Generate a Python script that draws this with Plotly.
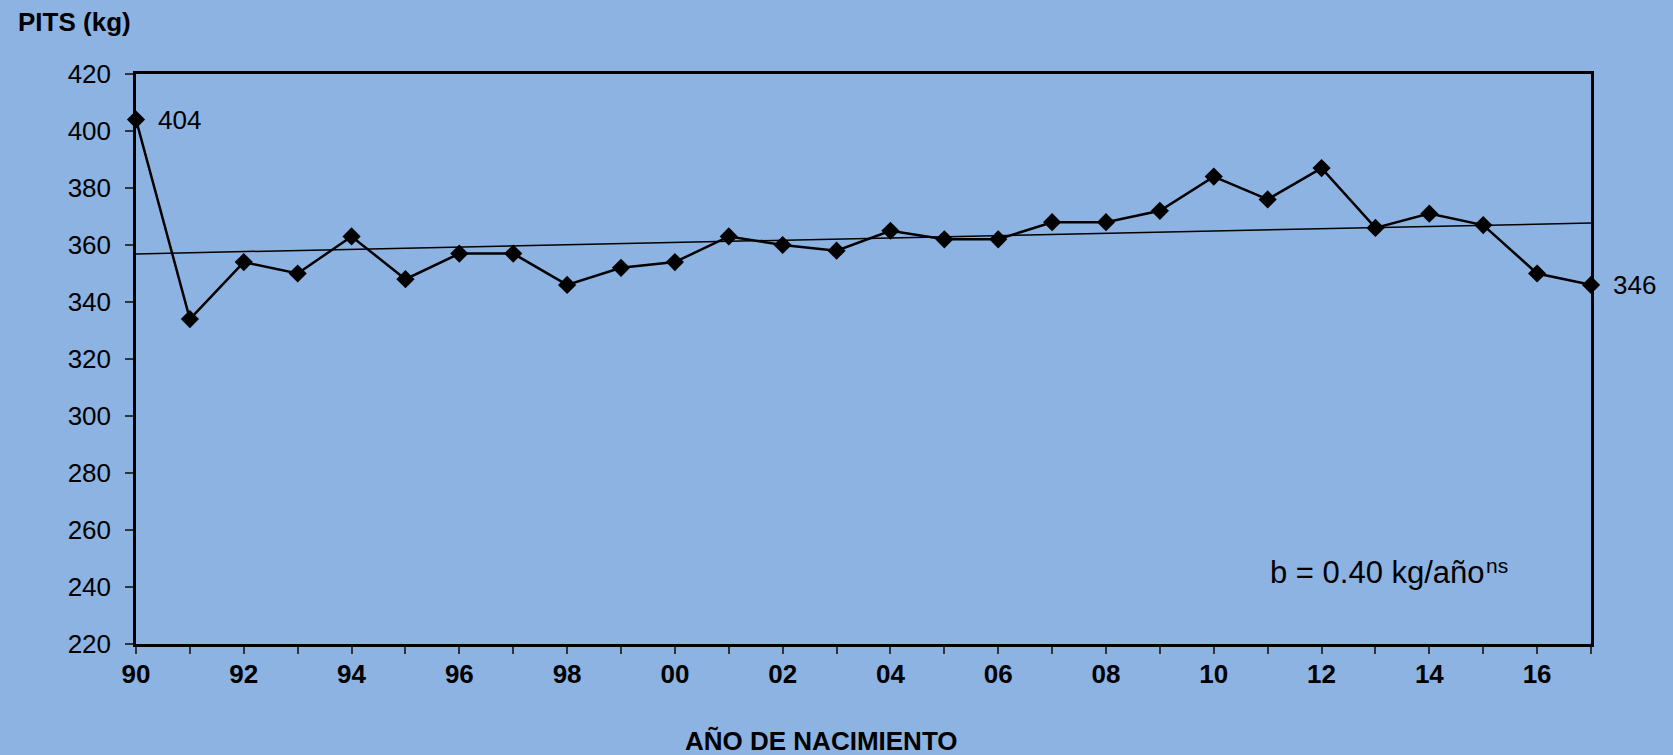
import numpy as np
import plotly.graph_objects as go

years = list(range(1990, 2018))
pits = [404, 334, 354, 350, 363, 348, 357, 357, 346, 352, 354, 363, 360, 358,
        365, 362, 362, 368, 368, 372, 384, 376, 387, 366, 371, 367, 350, 346]
tick_years = years
tick_labels = [f"{y % 100:02d}" if (y - 1990) % 2 == 0 else "" for y in years]
slope_text = "b = 0.40 kg/año"
slope_sup = "ns"
y_title = "PITS (kg)"
x_title = "AÑO DE NACIMIENTO"

coef = np.polyfit(years, pits, 1)
trend_x = [years[0], years[-1]]
trend_y = [float(np.polyval(coef, x)) for x in trend_x]

BG = "#8DB3E2"
FONT = "Liberation Sans, Arial, sans-serif"

fig = go.Figure()
fig.add_trace(go.Scatter(
    x=trend_x, y=trend_y, mode="lines",
    line=dict(color="black", width=1.5), showlegend=False, cliponaxis=False,
    hoverinfo="skip"))
fig.add_trace(go.Scatter(
    x=years, y=pits, mode="lines+markers",
    line=dict(color="black", width=2.5),
    marker=dict(symbol="diamond", size=14, color="black"),
    showlegend=False, cliponaxis=False))

fig.update_layout(
    width=1673, height=755,
    margin=dict(l=136, r=82, t=74, b=111),
    paper_bgcolor=BG, plot_bgcolor=BG,
    font=dict(family=FONT, color="black", size=26),
)
fig.update_xaxes(
    range=[1990, 2017], tickmode="array", tickvals=tick_years, ticktext=tick_labels,
    ticks="outside", ticklen=7, tickwidth=1.5, tickcolor="#333",
    tickfont=dict(family=FONT, size=26, weight="bold", color="black"),
    showline=True, linecolor="black", linewidth=2.5, mirror=True,
    showgrid=False, zeroline=False, ticklabelstandoff=-2,
)
fig.update_yaxes(
    range=[220, 420], tickmode="array", tickvals=list(range(220, 421, 20)),
    ticks="outside", ticklen=8, tickwidth=1.5, tickcolor="#333",
    tickfont=dict(family=FONT, size=26, color="black"),
    showline=True, linecolor="black", linewidth=2.5, mirror=True,
    showgrid=False, zeroline=False, ticklabelstandoff=9,
)

fig.add_annotation(x=years[0], y=pits[0], text=str(pits[0]), showarrow=False,
                   xanchor="left", yanchor="middle", xshift=20,
                   font=dict(family=FONT, size=26))
fig.add_annotation(x=years[-1], y=pits[-1], text=str(pits[-1]), showarrow=False,
                   xanchor="left", yanchor="middle", xshift=20,
                   font=dict(family=FONT, size=26))
fig.add_annotation(x=2011, y=245, text=slope_text, showarrow=False,
                   xanchor="left", yanchor="middle",
                   font=dict(family=FONT, size=31))
fig.add_annotation(x=2011, y=245, text=slope_sup, showarrow=False,
                   xanchor="left", yanchor="middle", xshift=216, yshift=7,
                   font=dict(family=FONT, size=21))
fig.add_annotation(xref="paper", yref="paper", x=-0.0825, y=1.091, text=f"<b>{y_title}</b>",
                   showarrow=False, xanchor="left", yanchor="middle",
                   font=dict(family=FONT, size=26))
fig.add_annotation(xref="paper", yref="paper", x=0.471, y=-0.17, text=f"<b>{x_title}</b>",
                   showarrow=False, xanchor="center", yanchor="middle",
                   font=dict(family=FONT, size=26))

fig.write_html("out.html", config={"displayModeBar": False},
               post_script="document.body.style.margin='0';document.body.style.background='" + BG + "';")
